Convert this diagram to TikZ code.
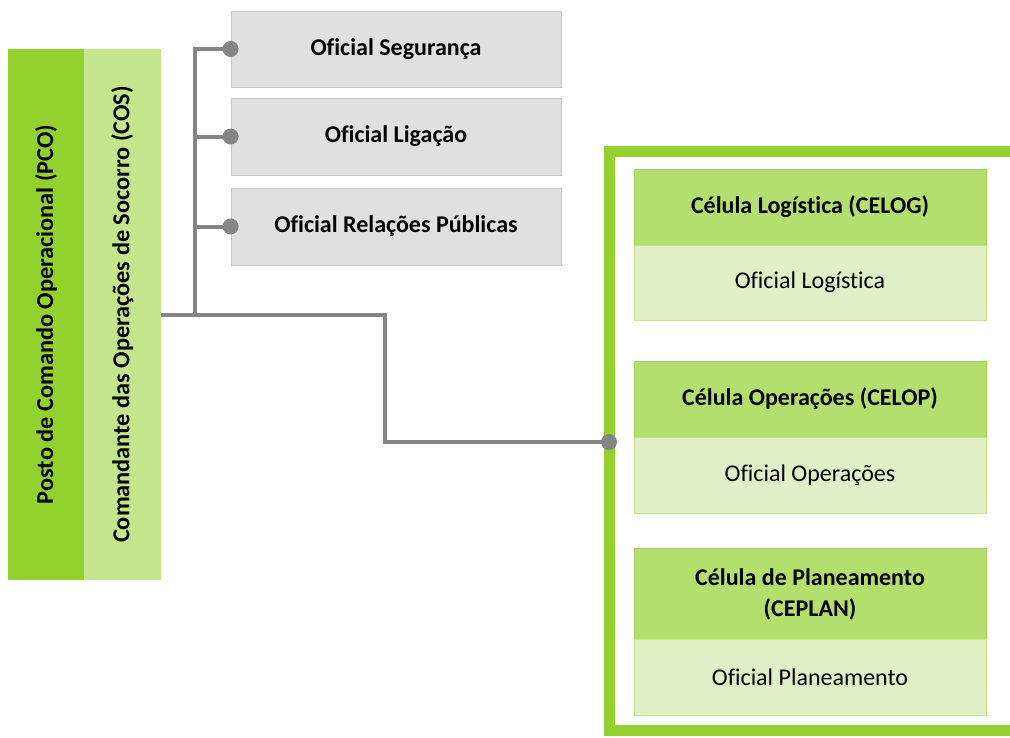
\documentclass[tikz,border=0pt]{standalone}
\usepackage{fontspec}
\setmainfont[Ligatures=NoCommon]{Carlito}
\definecolor{pcog}{HTML}{92D12E}
\definecolor{cosg}{HTML}{C3E68D}
\definecolor{hdrg}{HTML}{B3DF6E}
\definecolor{bodg}{HTML}{E0F0C6}
\definecolor{gbox}{HTML}{E0E0E0}
\definecolor{gline}{HTML}{858585}
\begin{document}
\begin{tikzpicture}[x=1pt,y=-1pt,
  font=\fontsize{24}{29}\selectfont,
  vbar/.style={rectangle, inner sep=0pt, minimum width=531pt, rotate=90, font=\fontsize{24.3}{29}\selectfont\bfseries},
  grey/.style={rectangle, inner sep=0pt, fill=gbox, draw=gbox!88!black, line width=0.8pt, minimum width=330pt, minimum height=76pt, font=\fontsize{24}{29}\selectfont\bfseries},
  hdr/.style={rectangle, inner sep=0pt, fill=hdrg, draw=hdrg!92!black, line width=0.6pt, minimum width=352pt, minimum height=76pt, align=center, font=\fontsize{24}{29}\selectfont\bfseries},
  bod/.style={rectangle, inner sep=0pt, fill=bodg, draw=hdrg!80!white, line width=0.6pt, minimum width=352pt, minimum height=76pt},
  conn/.style={draw=gline, line width=4pt},
  dot/.style={fill=gline}]
\clip (0,0) rectangle (1010,737);
\fill[white] (0,0) rectangle (1010,737);
% left bars
\node[vbar, fill=pcog, minimum height=76pt] (pco) at (46,314.5) {Posto de Comando Operacional (PCO)};
\node[vbar, fill=cosg, minimum height=77pt] (cos) at (122.5,314.5) {Comandante das Operações de Socorro (COS)};
% grey boxes
\node[grey] (seg) at (396,49) {Oficial Segurança};
\node[grey, minimum height=77pt] (lig) at (396,136.5) {Oficial Ligação};
\node[grey, minimum height=77pt] (rel) at (396,226.5) {Oficial Relações Públicas};
% frame
\draw[pcog, line width=11pt] (1020,151.5) -- (609,151.5) -- (609,730.5) -- (1020,730.5);
% cells
\node[hdr] (celogh) at (810,207) {Célula Logística (CELOG)};
\node[bod, minimum height=75pt] (celogb) at (810,282.5) {Oficial Logística};
\node[hdr] (celoph) at (810,399) {Célula Operações (CELOP)};
\node[bod] (celopb) at (810,475) {Oficial Operações};
\node[hdr, minimum height=91pt] (ceplanh) at (810,594) {Célula de Planeamento\\[2pt](CEPLAN)};
\node[bod] (ceplanb) at (810,677) {Oficial Planeamento};
% connectors
\coordinate (trunk) at (195,314.5);
\coordinate (fr) at (609,442);
\draw[conn] (cos.south) -- (385,314.5) |- (fr);
\draw[conn] (trunk) |- (seg.west);
\draw[conn] (trunk) |- (lig.west);
\draw[conn] (trunk) |- (rel.west);
\fill[dot] (seg.west) circle (8);
\fill[dot] (lig.west) circle (8);
\fill[dot] (rel.west) circle (8);
\fill[dot] (fr) circle (8);
\end{tikzpicture}
\end{document}
